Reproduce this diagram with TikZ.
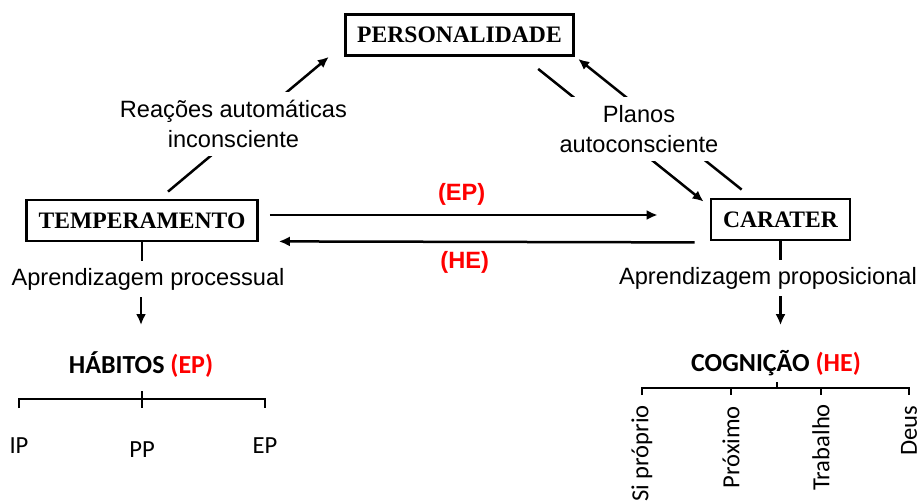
\documentclass[tikz,border=0pt]{standalone}
\usepackage{fontspec}
\setmainfont{Liberation Serif}
\setsansfont{Liberation Sans}
\newfontfamily\carlito{Carlito}
\usetikzlibrary{arrows.meta}

\begin{document}
\begin{tikzpicture}[x=0.5pt, y=-0.5pt,
    box/.style={draw, line width=1.4pt, inner xsep=6pt, minimum height=20.5pt,
      font=\fontsize{11.8}{14}\selectfont\bfseries},
    txt/.style={font=\fontsize{11.8}{15}\selectfont\sffamily, align=center},
    cut/.style={txt, fill=white, inner sep=4pt},
    tag/.style={font=\fontsize{11.8}{14}\selectfont\sffamily\bfseries, text=red},
    head/.style={font=\fontsize{13}{15}\selectfont\carlito\bfseries},
    leaf/.style={font=\fontsize{12.3}{14}\selectfont\carlito},
    arr/.style={line width=1.25pt, -{Latex[length=5.5pt,width=5pt]}},
    ln/.style={line width=1.25pt},
    brk/.style={line width=1.1pt}]
        \useasboundingbox (0,0) rectangle (921,503);

        \node[box] (pers) at (459.5,35) {PERSONALIDADE};
        \node[box] (temp) at (142,220.5) {TEMPERAMENTO};
        \node[box] (car) at (780.5,219.5) {CARATER};

        % personalidade - temperamento
        \draw[arr] ([xshift=13pt,yshift=3.5pt]temp.north) -- node[cut, xshift=-7.5pt] (reac) {Reações automáticas\\inconsciente} ([xshift=-7.5pt]pers.south west);

        % personalidade - carater
        \draw[arr] ([xshift=-18.5pt,yshift=-6pt]pers.south east) -- ([xshift=-3pt,yshift=-2pt]car.north west);
        \draw[arr] ([xshift=16pt,yshift=4pt]car.north west) -- ([xshift=1.5pt,yshift=-1pt]pers.south east);
        \node[cut] (planos) at (639,129) {Planos\\autoconsciente};

        % temperamento - carater
        \draw[arr] ([xshift=5.5pt,yshift=2.75pt]temp.east) -- node[tag, above=1pt, xshift=-1pt] (ep) {(EP)} ([xshift=-26pt,yshift=2.25pt]car.west);
        \draw[arr] ([xshift=-7.5pt,yshift=-0.5pt]car.south west) -- node[tag, below=1pt, xshift=-11pt] (he) {(HE)} ([xshift=10pt,yshift=0.5pt]temp.south east);

        % habitos
        \node[txt] (aprproc) at (148,279) {Aprendizagem processual};
        \node[head] (hab) at (141,365) {HÁBITOS \textcolor{red}{(EP)}};
        \draw[ln] (temp.south) -- (temp.south |- aprproc.north);
        \draw[arr, shorten >=10pt] (aprproc.south -| hab.north) -- (hab.north);

        \node[leaf] (ip) at (19,446) {IP};
        \node[leaf] (pp) at (142,450) {PP};
        \node[leaf] (epl) at (265,446) {EP};
        \coordinate (hbar) at (142,399);
        \draw[brk] (ip |- hbar) ++(0,9) -- (ip |- hbar) -- (epl |- hbar) -- ++(0,9);
        \draw[brk] ([yshift=4pt]hbar) -- ([yshift=-4.5pt]hbar);

        % cognicao
        \node[txt] (aprprop) at (768,278) {Aprendizagem proposicional};
        \node[head] (cog) at (776,363) {COGNIÇÃO \textcolor{red}{(HE)}};
        \draw[ln] (car.south) -- (car.south |- aprprop.north);
        \draw[arr, shorten >=9pt] (aprprop.south -| car.south) -- (car.south |- cog.north);

        \node[leaf, rotate=90, anchor=east] (si) at (642,398) {Si próprio};
        \node[leaf, rotate=90, anchor=east] (prox) at (731,399) {Próximo};
        \node[leaf, rotate=90, anchor=east] (trab) at (821,397) {Trabalho};
        \node[leaf, rotate=90, anchor=east] (deus) at (909,399) {Deus};
        \coordinate (cbar) at (777,388);
        \draw[brk] (si |- cbar) ++(0,7) -- (si |- cbar) -- (deus |- cbar) -- ++(0,7);
        \draw[brk] (prox |- cbar) -- ++(0,7);
        \draw[brk] (trab |- cbar) -- ++(0,7);
        \draw[brk] (cbar) -- ++(0,-6);
\end{tikzpicture}
\end{document}
